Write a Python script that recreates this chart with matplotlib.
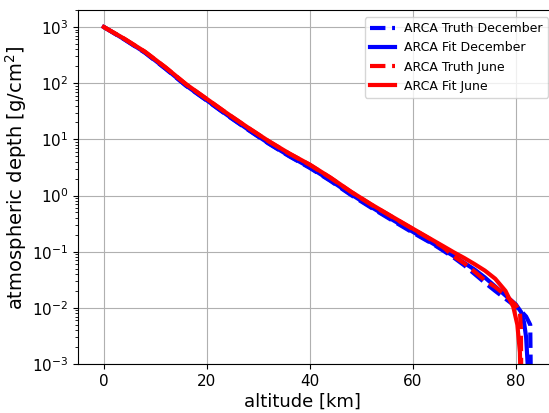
import matplotlib
matplotlib.use('Agg')
import matplotlib.pyplot as plt

# altitude grid shared by all curves up to 64 km
alt_main = [0, 4, 8, 12, 16, 20, 24, 28, 32, 36, 40, 44, 48, 52, 56, 60, 64]

# June (red) - truth and fit are almost on top of each other
june_fit_main = [1000, 617, 363, 191, 95.5, 52.5, 28.8, 16.2, 9.33, 5.62, 3.55,
                 2.09, 1.17, 0.69, 0.42, 0.257, 0.158]
june_truth_main = [1000, 615, 361, 190, 95.0, 52.2, 28.6, 16.1, 9.25, 5.58, 3.52,
                   2.07, 1.16, 0.68, 0.415, 0.253, 0.155]
# December (blue) - slightly lower
dec_fit_main = [1000, 603, 351, 182, 90.2, 49.5, 26.9, 15.0, 8.51, 5.07, 3.16,
                1.86, 1.05, 0.617, 0.372, 0.226, 0.138]
dec_truth_main = [1000, 600, 348, 180, 89.5, 49.0, 26.5, 14.8, 8.40, 5.00, 3.10,
                  1.82, 1.02, 0.600, 0.360, 0.218, 0.135]

# upper atmosphere tails
june_fit_alt = [66, 68, 70, 72, 74, 76, 78, 79.5, 80.3, 80.8, 81.0]
june_fit_tail = [0.124, 0.097, 0.077, 0.060, 0.046, 0.033, 0.020, 0.0105, 0.005, 0.0016, 0.0002]

june_truth_alt = [66, 68, 70, 72, 74, 76, 78, 80, 80.8, 81.0, 81.1]
june_truth_tail = [0.118, 0.082, 0.062, 0.044, 0.031, 0.0235, 0.0168, 0.0112, 0.0085, 0.004, 0.0001]

dec_fit_alt = [66, 68, 70, 72, 74, 76, 78, 80, 81, 81.6, 82.0, 82.3, 82.4]
dec_fit_tail = [0.107, 0.083, 0.063, 0.048, 0.0347, 0.024, 0.0166, 0.0115, 0.0085, 0.0055, 0.003, 0.001, 0.0002]

dec_truth_alt = [66, 68, 70, 72, 74, 76, 78, 80, 81, 82, 82.8, 83.0]
dec_truth_tail = [0.103, 0.078, 0.057, 0.040, 0.028, 0.020, 0.0145, 0.0105, 0.0088, 0.0070, 0.0050, 0.0001]

fig = plt.figure(figsize=(5.49, 4.13), dpi=100)
ax = fig.add_axes([0.1421, 0.1186, 0.8725, 0.857])

ax.plot(alt_main + dec_truth_alt, dec_truth_main + dec_truth_tail, color='blue',
        linestyle='--', linewidth=3, label='ARCA Truth December')
ax.plot(alt_main + dec_fit_alt, dec_fit_main + dec_fit_tail, color='blue',
        linestyle='-', linewidth=3, label='ARCA Fit December')
ax.plot(alt_main + june_truth_alt, june_truth_main + june_truth_tail, color='red',
        linestyle='--', linewidth=3, label='ARCA Truth June')
ax.plot(alt_main + june_fit_alt, june_fit_main + june_fit_tail, color='red',
        linestyle='-', linewidth=3, label='ARCA Fit June')

ax.set_yscale('log')
ax.set_xlim(-5, 88)
ax.set_ylim(1e-3, 2000)
ax.set_xlabel('altitude [km]', fontsize=13)
ax.set_ylabel('atmospheric depth [g/cm$^2$]', fontsize=14)
ax.xaxis.set_label_coords(0.468, -0.08)
ax.yaxis.set_label_coords(-0.102, 0.527)
ax.tick_params(labelsize=11)
ax.grid(True)

ax.legend(fontsize=9, loc='upper right', bbox_to_anchor=(548 / 549, 396 / 413),
          bbox_transform=fig.transFigure, borderaxespad=0)

fig.savefig('out.png', dpi=100)
